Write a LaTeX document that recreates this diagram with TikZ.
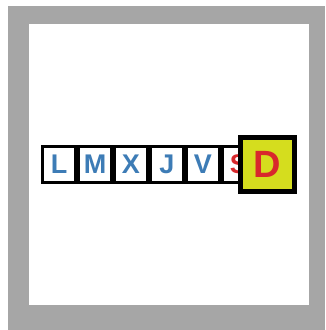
\documentclass[tikz,border=0pt]{standalone}
\usepackage{fontspec}
\setmainfont{Liberation Sans}
\usetikzlibrary{positioning}
\definecolor{framegray}{HTML}{A6A6A6}
\definecolor{dayblue}{HTML}{3D7CB6}
\definecolor{dayred}{HTML}{D8282C}
\definecolor{todayfill}{HTML}{D5DD1E}

\begin{document}
\begin{tikzpicture}[
    x=1pt, y=-1pt,
    cell/.style={draw=black, line width=3pt, fill=white, minimum width=33pt, minimum height=36pt,
                 inner sep=0pt, font=\fontsize{27}{27}\selectfont\bfseries, text=dayblue},
    today/.style={draw=black, line width=5pt, fill=todayfill, minimum size=54pt,
                  inner sep=0pt, font=\fontsize{38}{38}\selectfont\bfseries, text=dayred},
]
\useasboundingbox (0,0) rectangle (325,330);
\fill[white] (0,0) rectangle (325,330);
\fill[framegray] (8,6) rectangle (325,330);
\fill[white] (29,24) rectangle (309,305);
% week row
\node[cell] (lun) at (59,164.5) {L};
\node[cell, right=0pt of lun] (mar) {M};
\node[cell, right=0pt of mar] (mie) {X};
\node[cell, right=0pt of mie] (jue) {J};
\node[cell, right=0pt of jue] (vie) {V};
\node[cell, right=0pt of vie, text=dayred] (sab) {S};
% current day
\node[today] (dom) at (267.5,164.5) {D};
\end{tikzpicture}
\end{document}
